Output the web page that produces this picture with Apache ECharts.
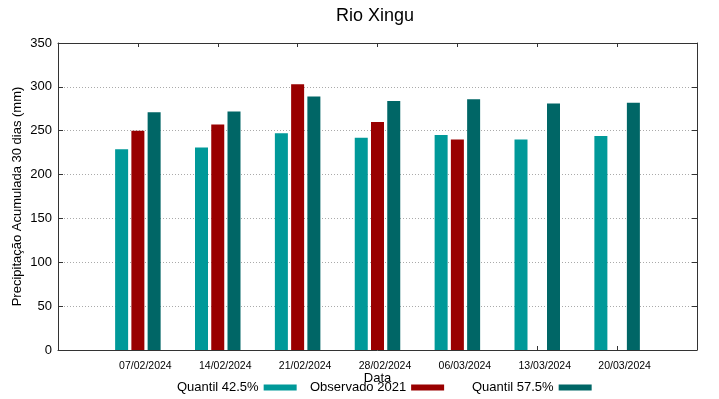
<!DOCTYPE html>
<html>
<head>
<meta charset="utf-8">
<script src="https://cdn.jsdelivr.net/npm/echarts@6/dist/echarts.min.js"></script>
<style>
  html, body { margin: 0; padding: 0; background: #fff; }
  #chart { width: 719px; height: 399px; }
</style>
</head>
<body>
<div id="chart"></div>
<script>
// dados
const dates = ['07/02/2024', '14/02/2024', '21/02/2024', '28/02/2024', '06/03/2024', '13/03/2024', '20/03/2024'];
const q425 = [229, 231, 247, 242, 245, 240, 244];
const obs2021 = [250, 257, 303, 260, 240, null, null];
const q575 = [271, 272, 289, 284, 286, 281, 282];
const seriesNames = ['Quantil 42.5%', 'Observado 2021', 'Quantil 57.5%'];
const colors = ['#009999', '#990000', '#006666'];

const font = 'Liberation Sans, Arial, sans-serif';
const axisColor = '#333';

function pairs(arr) {
    return arr.map((v, i) => [i, v]);
}

const chart = echarts.init(document.getElementById('chart'));

function legendFor(name, left) {
    return {
        data: [name],
        left: left,
        top: 381,
        padding: 0,
        align: 'right',
        itemWidth: 33,
        itemHeight: 6,
        icon: 'rect',
        selectedMode: false,
        textStyle: { fontFamily: font, fontSize: 13, color: '#000' }
    };
}

const option = {
    animation: false,
    color: colors,
    title: {
        text: 'Rio Xingu',
        left: 336,
        top: 7,
        padding: 0,
        textStyle: { fontFamily: font, fontSize: 18, fontWeight: 'normal', color: '#000' }
    },
    legend: [
        legendFor(seriesNames[0], 177),
        legendFor(seriesNames[1], 310),
        legendFor(seriesNames[2], 472)
    ],
    grid: { left: 58, right: 22, top: 43, bottom: 49, containLabel: false },
    xAxis: [
        {
            type: 'value',
            position: 'bottom',
            min: -1,
            max: 7,
            interval: 1,
            name: 'Data',
            nameLocation: 'middle',
            nameGap: 22,
            nameMoveOverlap: false,
            nameTextStyle: { fontFamily: font, fontSize: 13, color: '#000' },
            axisLine: { show: true, onZero: false, lineStyle: { color: axisColor } },
            axisTick: { show: true, inside: true, length: 4, lineStyle: { color: axisColor } },
            splitLine: { show: false },
            axisLabel: {
                margin: 11,
                fontFamily: font,
                fontSize: 10.5,
                color: '#000',
                padding: [0, 0, 0, 15],
                formatter: v => dates[v] || ''
            }
        },
        {
            type: 'value',
            position: 'top',
            min: -1,
            max: 7,
            interval: 1,
            axisLine: { show: true, onZero: false, lineStyle: { color: axisColor } },
            axisTick: { show: true, inside: true, length: 4, lineStyle: { color: axisColor } },
            splitLine: { show: false },
            axisLabel: { show: false }
        }
    ],
    yAxis: [
        {
            type: 'value',
            position: 'left',
            min: 0,
            max: 350,
            interval: 50,
            name: 'Precipitação Acumulada 30 dias (mm)',
            nameLocation: 'middle',
            nameGap: 34,
            nameMoveOverlap: false,
            nameTextStyle: { fontFamily: font, fontSize: 13, color: '#000' },
            axisLine: { show: true, onZero: false, lineStyle: { color: axisColor } },
            axisTick: { show: true, inside: true, length: 5, lineStyle: { color: axisColor } },
            axisLabel: { margin: 6, fontFamily: font, fontSize: 13, color: '#000' },
            splitLine: { show: true, lineStyle: { color: '#aaa', type: [1, 2], width: 1 } }
        },
        {
            type: 'value',
            position: 'right',
            min: 0,
            max: 350,
            interval: 50,
            axisLine: { show: true, onZero: false, lineStyle: { color: axisColor } },
            axisTick: { show: true, inside: true, length: 5, lineStyle: { color: axisColor } },
            axisLabel: { show: false },
            splitLine: { show: false }
        }
    ],
    series: [
        { name: seriesNames[0], type: 'bar', barWidth: 13, barGap: '25%', data: pairs(q425) },
        { name: seriesNames[1], type: 'bar', barWidth: 13, barGap: '25%', data: pairs(obs2021) },
        { name: seriesNames[2], type: 'bar', barWidth: 13, barGap: '25%', data: pairs(q575) }
    ]
};

chart.setOption(option);
</script>
</body>
</html>
